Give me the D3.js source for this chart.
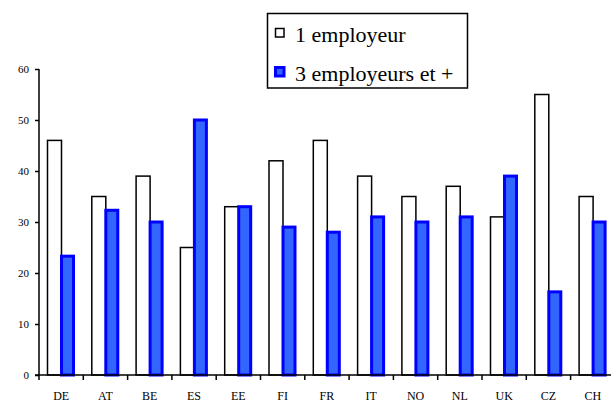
<!DOCTYPE html>
<html>
<head>
<meta charset="utf-8">
<script src="https://cdn.jsdelivr.net/npm/d3@7"></script>
<style>
  html, body { margin: 0; padding: 0; background: #fff; }
</style>
</head>
<body>
<div id="chart"></div>
<script>
;(function() {
  'use strict';

  // Data.
  var countries = ['DE', 'AT', 'BE', 'ES', 'EE', 'FI', 'FR', 'IT', 'NO', 'NL', 'UK', 'CZ', 'CH'];
  var oneEmployer = [46, 35, 39, 25, 33, 42, 46, 39, 35, 37, 31, 55, 35];
  var threePlus = [23.3, 32.3, 30, 50, 33, 29, 28, 31, 30, 31, 39, 16.3, 30];
  var yTicks = [0, 10, 20, 30, 40, 50, 60];
  var seriesNames = ['1 employeur', '3 employeurs et +'];

  var width = 611, height = 403;
  var margin = {top: 69, bottom: 28, left: 39};
  var serif = '"Liberation Serif", "Times New Roman", serif';

  var svg = d3.select('#chart').append('svg')
              .attr('width', width)
              .attr('height', height)
              .style('display', 'block');

  var xScale = d3.scaleBand()
                 .domain(countries)
                 .range([margin.left, margin.left + 13 * 44.3]);
  // Position of the two bars inside one country band.
  var subScale = d3.scaleBand()
                   .domain(seriesNames)
                   .range([8.5, 36.5]);
  var yScale = d3.scaleLinear()
                 .domain([0, 60])
                 .range([height - margin.bottom, margin.top]);

  var rows = countries.map(function(c, i) {
    return {label: c, a: oneEmployer[i], b: threePlus[i]};
  });

  // White bars first, the blue ones overlap their right edge.
  svg.append('g').selectAll('rect')
     .data(rows)
     .enter()
     .append('rect')
     .attr('x', function(d) { return xScale(d.label) + subScale(seriesNames[0]); })
     .attr('y', function(d) { return yScale(d.a); })
     .attr('width', subScale.bandwidth())
     .attr('height', function(d) { return yScale(0) - yScale(d.a); })
     .attr('fill', '#fff')
     .attr('stroke', '#000')
     .attr('stroke-width', 1.5);

  svg.append('g').selectAll('rect')
     .data(rows)
     .enter()
     .append('rect')
     .attr('x', function(d) { return xScale(d.label) + subScale(seriesNames[1]); })
     .attr('y', function(d) { return yScale(d.b); })
     .attr('width', subScale.bandwidth() - 2)
     .attr('height', function(d) { return yScale(0) - yScale(d.b); })
     .attr('fill', '#3366ff')
     .attr('stroke', '#0000ff')
     .attr('stroke-width', 3);

  // Axes.
  var yAxis = d3.axisLeft(yScale)
                .tickValues(yTicks)
                .tickSize(4)
                .tickPadding(6)
                .tickFormat(d3.format('d'));

  var gy = svg.append('g')
              .attr('transform', 'translate(' + margin.left + ',0)')
              .call(yAxis);
  gy.select('.domain').remove();
  gy.append('line')
    .attr('y1', yScale(60)).attr('y2', yScale(0))
    .attr('stroke', '#000').attr('stroke-width', 1.5);
  gy.selectAll('.tick line').attr('stroke', '#000').attr('stroke-width', 1.5);
  gy.selectAll('.tick text')
    .style('font-family', serif)
    .style('font-size', '11px')
    .attr('fill', '#000');

  var gx = svg.append('g')
              .attr('transform', 'translate(0,' + yScale(0) + ')');
  gx.append('line')
    .attr('x1', margin.left - 4).attr('x2', width)
    .attr('stroke', '#000').attr('stroke-width', 1.5);
  gx.selectAll('.xtick')
    .data(countries)
    .enter()
    .append('line')
    .attr('x1', function(d) { return xScale(d); })
    .attr('x2', function(d) { return xScale(d); })
    .attr('y1', 0).attr('y2', 5)
    .attr('stroke', '#000').attr('stroke-width', 1.5);
  gx.selectAll('.xlabel')
    .data(countries)
    .enter()
    .append('text')
    .attr('x', function(d) { return xScale(d) + xScale.bandwidth() / 2; })
    .attr('y', 25)
    .attr('text-anchor', 'middle')
    .style('font-family', serif)
    .style('font-size', '12px')
    .text(function(d) { return d; });

  // Legend.
  var legend = svg.append('g');
  legend.append('rect')
        .attr('x', 267.5).attr('y', 13.5)
        .attr('width', 200).attr('height', 74.5)
        .attr('fill', '#fff')
        .attr('stroke', '#000').attr('stroke-width', 1.5);

  var legendItems = [
    {name: seriesNames[0], fill: '#fff', stroke: '#000', sw: 1.5, y: 42},
    {name: seriesNames[1], fill: '#3366ff', stroke: '#0000ff', sw: 3, y: 81}
  ];
  var items = legend.selectAll('.item')
                    .data(legendItems)
                    .enter()
                    .append('g');
  items.append('rect')
       .attr('x', 275.5)
       .attr('y', function(d) { return d.y - 13.5; })
       .attr('width', 8.5).attr('height', 8.5)
       .attr('fill', function(d) { return d.fill; })
       .attr('stroke', function(d) { return d.stroke; })
       .attr('stroke-width', function(d) { return d.sw; });
  items.append('text')
       .attr('x', 295)
       .attr('y', function(d) { return d.y; })
       .style('font-family', serif)
       .style('font-size', '22px')
       .text(function(d) { return d.name; });
}());
</script>
</body>
</html>
